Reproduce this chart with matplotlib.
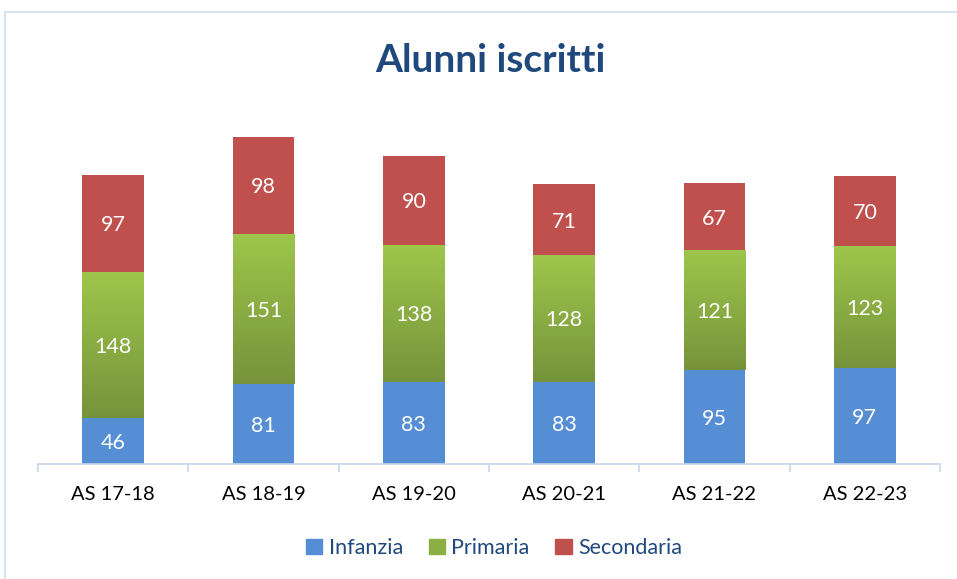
import numpy as np
import matplotlib.pyplot as plt
from matplotlib.colors import LinearSegmentedColormap
from matplotlib.patches import Patch

years = ['AS 17-18', 'AS 18-19', 'AS 19-20', 'AS 20-21', 'AS 21-22', 'AS 22-23']
infanzia = [46, 81, 83, 83, 95, 97]
primaria = [148, 151, 138, 128, 121, 123]
secondaria = [97, 98, 90, 71, 67, 70]

blue = '#558ED5'
red = '#C0504D'
green_top = '#9EC64B'
green_bot = '#76933B'
txt_blue = '#1F497D'

plt.rcParams['font.family'] = ['Lato', 'DejaVu Sans']

fig = plt.figure(figsize=(9.57, 5.79), dpi=100)
ax = fig.add_axes([38 / 957, 115 / 579, 902 / 957, 364 / 579])

x = np.arange(len(years))
w = 0.41
inf = np.array(infanzia)
pri = np.array(primaria)
sec = np.array(secondaria)

b1 = ax.bar(x, inf, w, color=blue, zorder=2)
b2 = ax.bar(x, pri, w, bottom=inf, color=green_top, zorder=2)
b3 = ax.bar(x, sec, w, bottom=inf + pri, color=red, zorder=2)

# gradient fill for the green bars
cmap = LinearSegmentedColormap.from_list('g', [green_bot, green_top])
grad = np.linspace(0, 1, 256).reshape(-1, 1)
for i, rect in enumerate(b2):
    im = ax.imshow(grad, cmap=cmap, aspect='auto', origin='lower',
                   extent=(x[i] - w / 2, x[i] + w / 2, inf[i], inf[i] + pri[i]),
                   zorder=2.5)
    im.set_clip_path(rect)

for vals, base in [(inf, np.zeros_like(inf)), (pri, inf), (sec, inf + pri)]:
    for i, v in enumerate(vals):
        ax.text(x[i], base[i] + v / 2, str(v),
                ha='center', va='center_baseline', color='white', fontsize=15.5, zorder=4)

ax.set_xlim(-0.5, len(years) - 0.5)
ax.set_ylim(0, 367)
ax.set_yticks([])
for s in ['top', 'right', 'left']:
    ax.spines[s].set_visible(False)
ax.spines['bottom'].set_color('#C9D7E8')
ax.spines['bottom'].set_linewidth(1.2)
ax.set_xticks(np.arange(-0.5, len(years)), minor=False)
ax.set_xticklabels([])
ax.tick_params(axis='x', length=6, color='#C9D7E8', width=1.2)
ax.set_xticks(x, minor=True)
ax.set_xticklabels(years, minor=True, fontsize=14.5, color='black')
ax.tick_params(axis='x', which='minor', length=0, pad=16)

fig.text(490 / 957, 1 - 61 / 579, 'Alunni iscritti', ha='center', va='center',
         fontsize=28, fontweight='bold', color=txt_blue)

handles = [Patch(color=blue, label='Infanzia'),
           Patch(color='#8CAF44', label='Primaria'),
           Patch(color=red, label='Secondaria')]
leg = fig.legend(handles=handles, loc='center', bbox_to_anchor=(494 / 957, 1 - 548 / 579),
                 ncol=3, frameon=False, fontsize=15.5, handlelength=0.75, handleheight=0.75,
                 handletextpad=0.3, columnspacing=1.2)
for t in leg.get_texts():
    t.set_color(txt_blue)

# chart frame
fig.add_artist(plt.Line2D([5 / 957, 1], [1 - 12 / 579, 1 - 12 / 579], color='#D5E3F1', lw=1.5))
fig.add_artist(plt.Line2D([5 / 957, 5 / 957], [0, 1 - 12 / 579], color='#D5E3F1', lw=1.5))

fig.savefig('out.png', dpi=100)
